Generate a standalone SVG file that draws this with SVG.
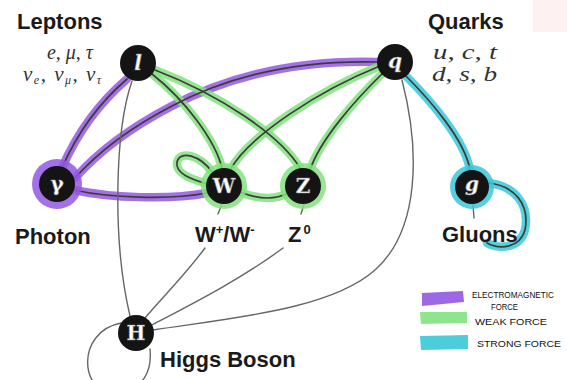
<svg xmlns="http://www.w3.org/2000/svg" width="567" height="380" viewBox="0 0 567 380">
<style>
.band{fill:none;stroke-linecap:round;stroke-width:8.5;opacity:0.85}
.em{stroke:#9457e0}
.wk{stroke:#82e27e}
.st{stroke:#38c8d8}
.core{fill:none;stroke:#3c3c3c;stroke-width:1.7;stroke-linecap:round}
.thin{fill:none;stroke:#666;stroke-width:1.4;stroke-linecap:round}
.node{fill:#141414}
.sym{font-family:"DejaVu Serif","Liberation Serif",serif;font-weight:bold;font-size:20px;fill:#fff;text-anchor:middle;stroke:#888;stroke-width:0.5}
.lbl{font-family:"Liberation Sans",Arial,sans-serif;font-weight:bold;font-size:22px;fill:#1a1a1a}
.math{font-family:"Liberation Serif","Times New Roman",serif;font-style:italic;font-size:21px;fill:#333}
.hand{font-family:"Liberation Sans",Arial,sans-serif;font-size:9.5px;fill:#111}
</style>
<rect x="533" y="0" width="34" height="32" fill="#fdf2f1"/>
<g id="connectors">
  <path class="band em" d="M127,79 Q85,115 62,168"/>
  <path class="band em" d="M377,62 C300,60 230,75 170,107 C130,128 100,150 75,178"/>
  <path class="band em" d="M74,190 C110,198 170,200 207,193"/>
  <path class="band wk" d="M152,74 C185,100 215,140 222,168"/>
  <path class="band wk" d="M155,70 C220,95 280,135 300,168"/>
  <path class="band wk" d="M380,66 C320,90 250,135 230,170"/>
  <path class="band wk" d="M383,73 C355,100 320,140 310,170"/>
  <path class="band wk" d="M240,192 C260,200 275,200 288,193"/>
  <path class="band wk" d="M212,172 C200,155 180,150 177,162 C175,175 195,180 210,185"/>
  <path class="band st" d="M405,75 C430,100 465,140 470,170"/>
  <path class="band st" d="M487,183 C515,185 530,205 525,230 C520,248 500,250 487,243"/>
  <path class="core" d="M127,79 Q85,115 62,168"/>
  <path class="core" d="M377,62 C300,60 230,75 170,107 C130,128 100,150 75,178"/>
  <path class="core" d="M74,190 C110,198 170,200 207,193"/>
  <path class="core" d="M152,74 C185,100 215,140 222,168"/>
  <path class="core" d="M155,70 C220,95 280,135 300,168"/>
  <path class="core" d="M380,66 C320,90 250,135 230,170"/>
  <path class="core" d="M383,73 C355,100 320,140 310,170"/>
  <path class="core" d="M240,192 C260,200 275,200 288,193"/>
  <path class="core" d="M212,172 C200,155 180,150 177,162 C175,175 195,180 210,185"/>
  <path class="core" d="M405,75 C430,100 465,140 470,170"/>
  <path class="core" d="M487,183 C515,185 530,205 525,230 C520,248 500,250 487,243"/>
  <path class="thin" d="M132,81 C115,130 112,240 130,316"/>
  <path class="thin" d="M222,204 L218,214"/>
  <path class="thin" d="M205,248 C185,275 160,300 145,318"/>
  <path class="thin" d="M304,204 L301,214"/>
  <path class="thin" d="M283,248 C240,280 190,305 152,325"/>
  <path class="thin" d="M402,80 C420,150 420,230 375,270 C330,310 230,318 153,330"/>
  <path class="thin" d="M121,323 C75,332 80,395 115,392 C145,390 152,370 150,349"/>
  <path class="thin" d="M473,205 L474,218"/>
</g>
<g id="node-l">
  <circle class="node" cx="138" cy="63" r="18"/>
  <text class="sym" x="138" y="70" font-style="italic">l</text>
  <text class="lbl" x="17" y="29">Leptons</text>
  <text class="math" x="47" y="59" textLength="46" lengthAdjust="spacingAndGlyphs">e, μ, τ</text>
  <text class="math" x="23" y="81" letter-spacing="1.5">ν<tspan font-size="12" dy="3">e</tspan><tspan dy="-3">, ν</tspan><tspan font-size="12" dy="3">μ</tspan><tspan dy="-3">, ν</tspan><tspan font-size="12" dy="3">τ</tspan></text>
</g>
<g id="node-q">
  <circle class="node" cx="395" cy="62" r="18"/>
  <text class="sym" x="395" y="68" font-style="italic">q</text>
  <text class="lbl" x="428" y="29">Quarks</text>
  <text class="math" x="433" y="59" textLength="64" lengthAdjust="spacingAndGlyphs">u, c, t</text>
  <text class="math" x="432" y="81" textLength="65" lengthAdjust="spacingAndGlyphs">d, s, b</text>
</g>
<g id="node-photon">
  <circle cx="57" cy="184" r="25" fill="#9457e0" opacity="0.85"/>
  <circle class="node" cx="57" cy="184" r="18"/>
  <text class="sym" x="57" y="191">γ</text>
  <text class="lbl" x="15" y="244">Photon</text>
</g>
<g id="node-W">
  <circle cx="224" cy="186" r="23" fill="#82e27e" opacity="0.85"/>
  <circle class="node" cx="224" cy="186" r="18"/>
  <text class="sym" x="224" y="193">W</text>
  <text class="lbl" x="195" y="242">W<tspan font-size="13" dy="-8">+</tspan><tspan dy="8">/W</tspan><tspan font-size="13" dy="-8">-</tspan></text>
</g>
<g id="node-Z">
  <circle cx="303" cy="186" r="23" fill="#82e27e" opacity="0.85"/>
  <circle class="node" cx="303" cy="186" r="18"/>
  <text class="sym" x="303" y="193">Z</text>
  <text class="lbl" x="288" y="242">Z<tspan font-size="13" dy="-8" dx="2">0</tspan></text>
</g>
<g id="node-g">
  <circle cx="472" cy="187" r="22" fill="#38c8d8" opacity="0.85"/>
  <circle class="node" cx="472" cy="187" r="17"/>
  <text class="sym" x="472" y="191" font-style="italic">g</text>
  <text class="lbl" x="442" y="242">Gluons</text>
</g>
<g id="node-H">
  <circle class="node" cx="136" cy="333" r="18"/>
  <text class="sym" x="136" y="340">H</text>
  <text class="lbl" x="160" y="367">Higgs Boson</text>
</g>
<g id="legend">
  <path d="M422,293 L463,291 L464,302 L422,306 Z" fill="#9457e0" opacity="0.9"/>
  <path d="M420,312 L467,312 L467,323 L421,324 Z" fill="#82e27e" opacity="0.9"/>
  <path d="M420,336 L468,335 L468,349 L421,350 Z" fill="#38c8d8" opacity="0.9"/>
  <text class="hand" x="472" y="298" font-size="8" textLength="82" lengthAdjust="spacingAndGlyphs">ELECTROMAGNETIC</text>
  <text class="hand" x="491" y="309.5" textLength="27" lengthAdjust="spacingAndGlyphs">FORCE</text>
  <text class="hand" x="475" y="325" textLength="72" lengthAdjust="spacingAndGlyphs">WEAK FORCE</text>
  <text class="hand" x="477" y="347" textLength="84" lengthAdjust="spacingAndGlyphs">STRONG FORCE</text>
</g>
</svg>
